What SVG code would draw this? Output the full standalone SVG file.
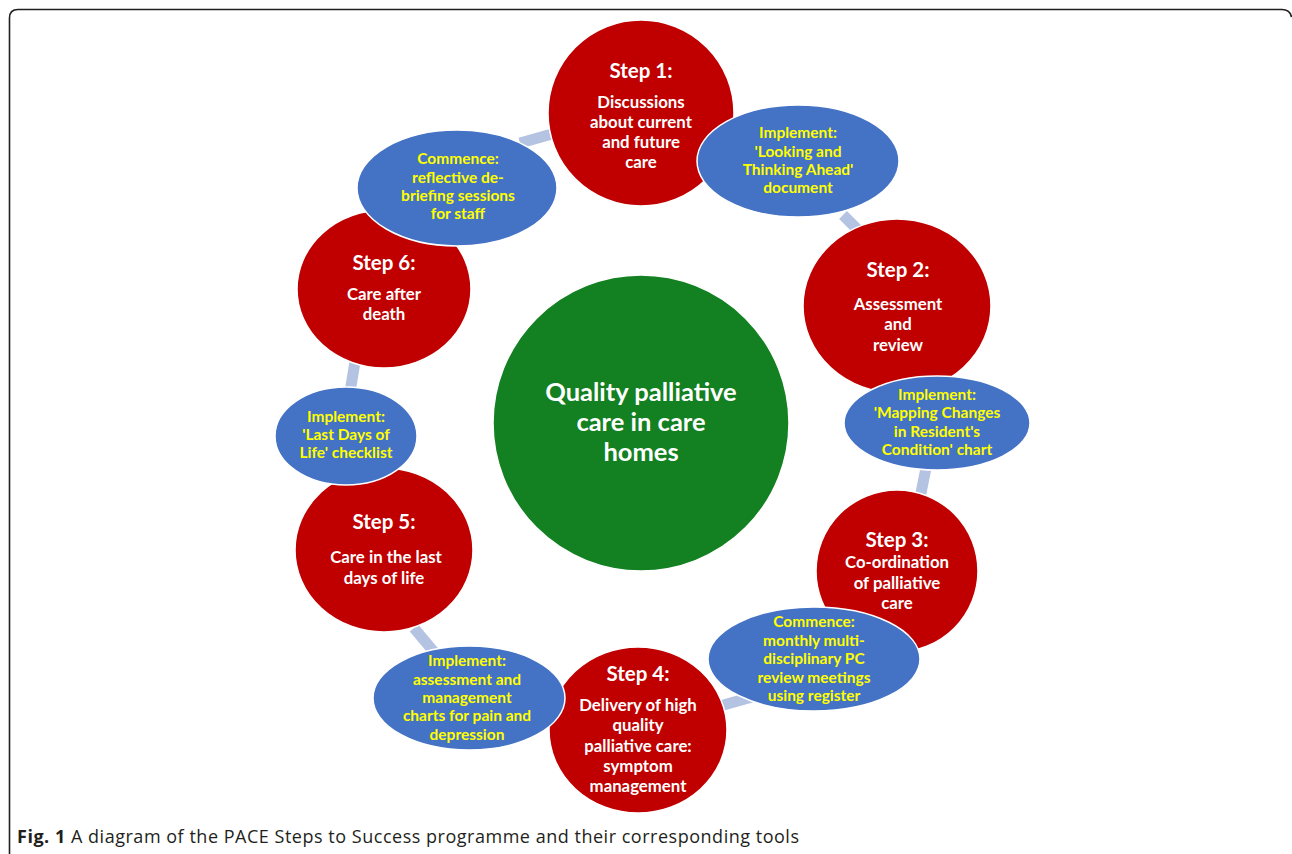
<svg xmlns="http://www.w3.org/2000/svg" width="1292" height="854" viewBox="0 0 1292 854">
<style>
.step{fill:#c00000;stroke:#ffffff;stroke-width:1.5}
.tool{fill:#4472c4;stroke:#ffffff;stroke-width:1.5}
.hub{fill:#138021;stroke:#ffffff;stroke-width:1.5}
.conn{stroke:#b4c3e2;stroke-width:11;fill:none}
text{font-family:Lato,"Liberation Sans",sans-serif;font-weight:bold;text-anchor:middle}
.st{fill:#ffffff;font-size:20.5px}
.sb{fill:#ffffff;font-size:16.8px}
.tt{fill:#ffff00;font-size:15.5px}
.ht{fill:#ffffff;font-size:25.5px}
.cap{font-family:"Open Sans","Liberation Sans",sans-serif;font-size:18px;fill:#231f20;text-anchor:start;font-weight:normal}
</style>
<rect x="0" y="0" width="1292" height="854" fill="#ffffff"/>
<path d="M9.5 854 L9.5 18 Q9.5 9.5 18 9.5 L1282 9.5 Q1290 9.5 1291.5 17" fill="none" stroke="#231f20" stroke-width="1.6"/>
<g id="connectors">
<line class="conn" x1="520" y1="143" x2="552" y2="134"/>
<line class="conn" x1="843" y1="215" x2="858" y2="230"/>
<line class="conn" x1="926" y1="468" x2="920" y2="498"/>
<line class="conn" x1="720" y1="706" x2="752" y2="697"/>
<line class="conn" x1="414" y1="628" x2="434" y2="652"/>
<line class="conn" x1="355" y1="362" x2="350" y2="392"/>
</g>
<g id="hub">
<circle class="hub" cx="641" cy="423" r="148"/>
<text class="ht" x="641" y="401">Quality palliative</text>
<text class="ht" x="641" y="431">care in care</text>
<text class="ht" x="641" y="461">homes</text>
</g>
<g id="step1">
<circle class="step" cx="641" cy="113" r="93"/>
<text class="st" x="641" y="78">Step 1:</text>
<text class="sb" x="641" y="108">Discussions</text>
<text class="sb" x="641" y="128">about current</text>
<text class="sb" x="641" y="148">and future</text>
<text class="sb" x="641" y="168">care</text>
</g>
<g id="step2">
<ellipse class="step" cx="897" cy="306" rx="94" ry="87"/>
<text class="st" x="898" y="277">Step 2:</text>
<text class="sb" x="898" y="310">Assessment</text>
<text class="sb" x="898" y="330">and</text>
<text class="sb" x="898" y="351">review</text>
</g>
<g id="step3">
<circle class="step" cx="897" cy="571" r="81"/>
<text class="st" x="897" y="547">Step 3:</text>
<text class="sb" x="897" y="568">Co-ordination</text>
<text class="sb" x="897" y="589">of palliative</text>
<text class="sb" x="897" y="609">care</text>
</g>
<g id="step4">
<ellipse class="step" cx="638" cy="730" rx="89" ry="83"/>
<text class="st" x="638" y="681">Step 4:</text>
<text class="sb" x="638" y="711">Delivery of high</text>
<text class="sb" x="638" y="731">quality</text>
<text class="sb" x="638" y="752">palliative care:</text>
<text class="sb" x="638" y="772">symptom</text>
<text class="sb" x="638" y="792">management</text>
</g>
<g id="step5">
<ellipse class="step" cx="384" cy="550" rx="89" ry="82"/>
<text class="st" x="384" y="529">Step 5:</text>
<text class="sb" x="386" y="563">Care in the last</text>
<text class="sb" x="384" y="584">days of life</text>
</g>
<g id="step6">
<ellipse class="step" cx="384" cy="289" rx="87" ry="79"/>
<text class="st" x="384" y="270">Step 6:</text>
<text class="sb" x="384" y="300">Care after</text>
<text class="sb" x="384" y="320">death</text>
</g>
<g id="tool1">
<ellipse class="tool" cx="798" cy="161" rx="101" ry="56"/>
<text class="tt" x="798" y="138">Implement:</text>
<text class="tt" x="798" y="157">'Looking and</text>
<text class="tt" x="798" y="175">Thinking Ahead'</text>
<text class="tt" x="798" y="193">document</text>
</g>
<g id="tool2">
<ellipse class="tool" cx="937" cy="423" rx="93" ry="47"/>
<text class="tt" x="937" y="400">Implement:</text>
<text class="tt" x="937" y="418">'Mapping Changes</text>
<text class="tt" x="937" y="437">in Resident's</text>
<text class="tt" x="937" y="455">Condition' chart</text>
</g>
<g id="tool3">
<ellipse class="tool" cx="814" cy="659" rx="106" ry="52"/>
<text class="tt" x="814" y="627">Commence:</text>
<text class="tt" x="814" y="646">monthly multi-</text>
<text class="tt" x="814" y="664">disciplinary PC</text>
<text class="tt" x="814" y="683">review meetings</text>
<text class="tt" x="814" y="701">using register</text>
</g>
<g id="tool4">
<ellipse class="tool" cx="469" cy="698" rx="96" ry="52"/>
<text class="tt" x="467" y="666">Implement:</text>
<text class="tt" x="467" y="685">assessment and</text>
<text class="tt" x="467" y="703">management</text>
<text class="tt" x="467" y="721">charts for pain and</text>
<text class="tt" x="467" y="740">depression</text>
</g>
<g id="tool5">
<ellipse class="tool" cx="346" cy="436" rx="71" ry="49"/>
<text class="tt" x="346" y="422">Implement:</text>
<text class="tt" x="346" y="440">'Last Days of</text>
<text class="tt" x="346" y="458">Life' checklist</text>
</g>
<g id="tool6">
<ellipse class="tool" cx="457" cy="188" rx="100" ry="58"/>
<text class="tt" x="458" y="164">Commence:</text>
<text class="tt" x="458" y="183">reflective de-</text>
<text class="tt" x="458" y="201">briefing sessions</text>
<text class="tt" x="458" y="219">for staff</text>
</g>
<text class="cap" x="17" y="843" textLength="782" lengthAdjust="spacing"><tspan font-weight="bold">Fig. 1</tspan> A diagram of the PACE Steps to Success programme and their corresponding tools</text>
</svg>
